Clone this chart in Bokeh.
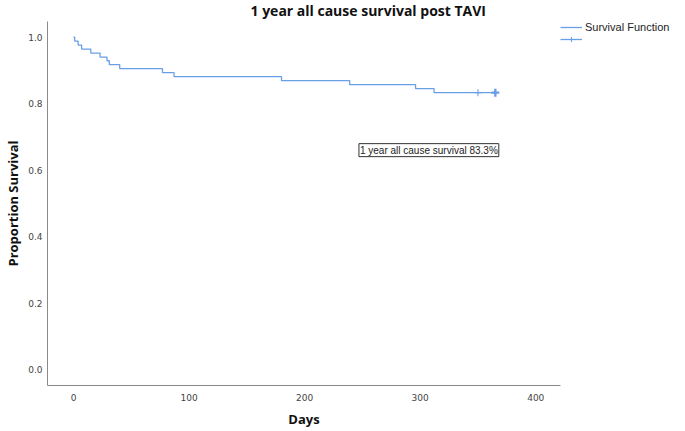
from bokeh.plotting import figure
from bokeh.models import (Range1d, FixedTicker, Label, Legend, LegendItem, Title,
                          CustomJSTickFormatter)
from bokeh.embed import file_html
from bokeh.resources import INLINE

# Kaplan-Meier survival estimates (days, proportion surviving)
event_days = [0, 1, 4, 7, 15, 23, 29, 31, 40, 77, 87, 180, 239, 296, 312, 365]
survival = [1.0, 0.988, 0.976, 0.964, 0.952, 0.940, 0.929, 0.917, 0.905,
            0.893, 0.881, 0.869, 0.857, 0.845, 0.833, 0.833]
# censored observations
censor_single_day = [350]
censor_single_surv = [0.833]
censor_multi_day = [365]
censor_multi_surv = [0.833]

x_ticks = [0, 100, 200, 300, 400]
y_ticks = [0.0, 0.2, 0.4, 0.6, 0.8, 1.0]

title_text = "1 year all cause survival post TAVI"
x_title = "Days"
y_title = "Proportion Survival"
legend_text = "Survival Function"
note_text = "1 year all cause survival 83.3%"
note_day = 247
note_prop = 0.66

LINE = "#6a9fe8"
FONT = "DejaVu Sans"
BOLD_FONT = "Open Sans"

p = figure(frame_width=513, height=431, output_backend="svg", toolbar_location=None,
           title=None,
           x_range=Range1d(-22.5, 421.4), y_range=Range1d(-0.048, 1.047),
           min_border_left=47, min_border_right=125, min_border_top=15, min_border_bottom=46)
p.outline_line_color = None
p.xgrid.visible = False
p.ygrid.visible = False
p.background_fill_color = "white"
p.border_fill_color = "white"

for ax in (p.xaxis[0], p.yaxis[0]):
    ax.axis_line_color = "#8a8a8a"
    ax.axis_line_width = 1
    ax.major_tick_in = 0
    ax.major_tick_out = 0
    ax.minor_tick_line_color = None
    ax.major_label_text_font = FONT
    ax.major_label_text_font_size = "9px"
    ax.major_label_text_color = "#444444"
    ax.axis_label_text_font = BOLD_FONT
    ax.axis_label_text_font_style = "bold"
    ax.axis_label_text_font_size = "13px"
    ax.axis_label_text_color = "#111111"
p.xaxis[0].ticker = FixedTicker(ticks=x_ticks)
p.yaxis[0].ticker = FixedTicker(ticks=y_ticks)
p.yaxis[0].formatter = CustomJSTickFormatter(code="return tick.toFixed(1);")
p.xaxis[0].major_label_standoff = 8
p.yaxis[0].major_label_standoff = 5
p.xaxis[0].axis_label = x_title
p.yaxis[0].axis_label = y_title
p.xaxis[0].axis_label_standoff = 6
p.yaxis[0].axis_label_standoff = 3

title = Title(text=title_text, align="left", offset=203, standoff=0, vertical_align="top",
              text_font=BOLD_FONT, text_font_style="bold", text_font_size="14px",
              text_color="#111111")
p.add_layout(title, "above")

step_r = p.step(event_days, survival, mode="after", line_color=LINE, line_width=1.3)
tick_r = p.scatter(censor_single_day, censor_single_surv, marker="cross",
                   size=7, line_color=LINE, line_width=1.1)
p.scatter(censor_multi_day, censor_multi_surv, marker="cross", size=8,
          line_color=LINE, line_width=2.4)

p.add_layout(Label(x=note_day, y=note_prop, text=note_text, text_font="Liberation Sans",
                   text_font_size="10px", text_color="#222222", text_baseline="middle",
                   text_align="left", border_line_color="#333333", border_line_width=1,
                   background_fill_color="white", padding=1))

legend = Legend(items=[LegendItem(label=legend_text, renderers=[step_r]),
                       LegendItem(label=" ", renderers=[step_r, tick_r])],
                location="top_left", margin=0, padding=4, spacing=0,
                glyph_width=22, glyph_height=12, label_height=12, label_standoff=3,
                border_line_color=None, background_fill_alpha=0,
                label_text_font="Liberation Sans", label_text_font_size="11px",
                label_text_color="#222222")
p.add_layout(legend, "right")

open("out.html", "w").write(file_html(p, INLINE))
